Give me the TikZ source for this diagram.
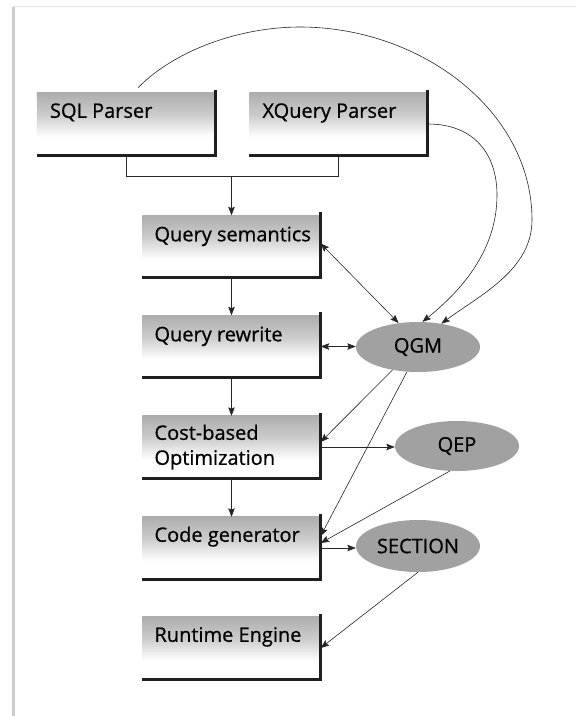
\documentclass[tikz,border=0pt]{standalone}
\usepackage{fontspec}
\setmainfont{Open Sans}[FakeBold=0.7]
\usetikzlibrary{shapes.geometric,arrows.meta,calc}
\begin{document}
\begin{tikzpicture}[x=1pt,y=-1pt,
  blk/.style={rectangle,minimum width=178pt,minimum height=62pt,inner sep=0pt},
  lbl/.style={anchor=base west,inner sep=0pt,font=\fontsize{20}{24}\selectfont},
  ell/.style={ellipse,minimum width=124pt,minimum height=50pt,inner sep=0pt,fill=black!37,font=\fontsize{20}{24}\selectfont},
  con/.style={line width=0.6pt,black!85},
  tip/.tip={Stealth[length=8.5pt,width=6.5pt,inset=1.5pt]},
  arr/.style={con,-tip},
  darr/.style={con,tip-tip},
  boxedge/.style={line width=2.8pt,black!88}]
\useasboundingbox (0,0) rectangle (576,716);
\fill[white] (0,0) rectangle (576,716);
\draw[black!20,line width=3pt] (13,7) -- (13,716);
\draw[black!10,line width=0.8pt] (13,6) -- (576,6);

% boxes
\node[blk] (sql) at (126,124) {};
\node[blk] (xq) at (338.5,124) {};
\node[blk] (qs) at (231.5,246.5) {};
\node[blk] (qr) at (231.5,346.5) {};
\node[blk] (cb) at (231.5,447) {};
\node[blk] (cg) at (231.5,548) {};
\node[blk] (rt) at (231.5,648) {};

\foreach \b in {sql,xq,qs,qr,cb,cg,rt}{
  \shade[top color=black!32,bottom color=white,middle color=black!20] (\b.north west) rectangle ([yshift=-44pt]\b.north east);
  \draw[boxedge] ([yshift=3pt]\b.north east) -- (\b.south east) -- (\b.south west);
}

\node[lbl] (sqlt) at ([xshift=13pt,yshift=-25pt]sql.north west) {SQL Parser};
\node[lbl] (xqt) at ([xshift=13pt,yshift=-25pt]xq.north west) {XQuery Parser};
\node[lbl] (qst) at ([xshift=12pt,yshift=-26pt]qs.north west) {Query semantics};
\node[lbl] (qrt) at ([xshift=12pt,yshift=-26pt]qr.north west) {Query rewrite};
\node[lbl] (cbt1) at ([xshift=12pt,yshift=-24pt]cb.north west) {Cost-based};
\node[lbl] (cbt2) at ([xshift=12pt,yshift=-49pt]cb.north west) {Optimization};
\node[lbl] (cgt) at ([xshift=12pt,yshift=-25pt]cg.north west) {Code generator};
\node[lbl] (rtt) at ([xshift=12pt,yshift=-25pt]rt.north west) {Runtime Engine};

% ellipses
\node[ell] (qgm) at (418,347) {QGM};
\node[ell] (qep) at (457,446) {QEP};
\node[ell,minimum height=52pt] (sec) at (418,546) {SECTION};

% main flow
\draw[con] (sql.south) -- ++(0,21) coordinate (bl) -| (xq.south);
\coordinate (bm) at (qs.north |- bl);
\draw[arr] (bm) -- (qs.north);
\draw[arr] (qs.south) -- (qr.north);
\draw[arr] (qr.south) -- (cb.north);
\draw[arr] (cb.south) -- (cg.north);

% QGM links
\draw[darr] ([yshift=3pt]qs.east) -- (qgm.129);
\draw[darr] (qr.east) -- (qr.east -| qgm.west);
\draw[arr] ([xshift=12pt,yshift=5pt]sql.north) .. controls (175,50) and (240,27) .. (300,27)
  .. controls (420,27) and (532,110) .. (532,220)
  .. controls (532,270) and (480,295) .. (qgm.45);
\draw[arr] (xq.east) .. controls (475,124) and (497,155) .. (497,195)
  .. controls (497,250) and (462,290) .. (qgm.80);
\draw[arr] (qgm.222) -- ([yshift=5pt]cb.east);
\draw[arr] (qgm.246) -- ([yshift=12pt]cg.east);
\draw[arr] (cb.east) -- (cb.east -| qep.west);
\draw[arr] (qep.254) -- ([yshift=5pt]cg.east);
\draw[arr] (cg.east) -- (cg.east -| sec.west);
\draw[arr] (sec.south) -- (rt.east);
\end{tikzpicture}
\end{document}
